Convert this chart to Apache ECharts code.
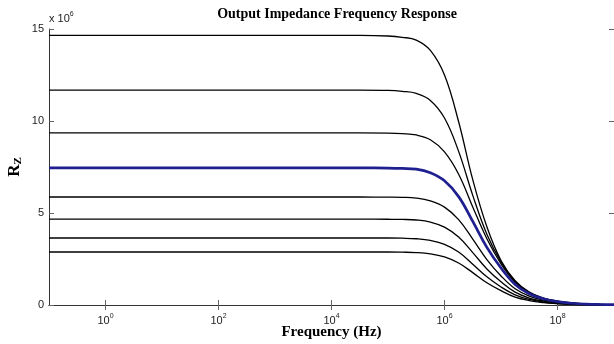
<!DOCTYPE html>
<html><head><meta charset="utf-8">
<script src="https://cdn.jsdelivr.net/npm/echarts@6/dist/echarts.min.js"></script>
<style>html,body{margin:0;padding:0;background:#fff}#c{width:614px;height:344px}</style>
</head><body><div id="c"></div>
<script>
// frequency exponents (log10 Hz)
const freqExp = [-1, 3, 4, 4.5, 5, 5.25, 5.5, 5.75, 6, 6.25, 6.5, 6.75, 7, 7.25, 7.5, 7.75, 8, 8.25, 8.5, 8.75, 9];
// R_Z values (x 10^6)
const curve1 = [14.65, 14.65, 14.65, 14.65, 14.62, 14.55, 14.40, 13.84, 12.50, 9.96, 6.81, 4.25, 2.42, 1.32, 0.70, 0.38, 0.21, 0.11, 0.06, 0.03, 0.015];
const curve2 = [11.68, 11.68, 11.68, 11.68, 11.66, 11.61, 11.50, 11.12, 10.16, 8.35, 5.96, 3.85, 2.34, 1.28, 0.68, 0.36, 0.20, 0.11, 0.06, 0.03, 0.015];
const curve3 = [9.35, 9.35, 9.35, 9.35, 9.34, 9.31, 9.24, 8.98, 8.32, 7.11, 5.33, 3.60, 2.24, 1.24, 0.67, 0.36, 0.20, 0.10, 0.056, 0.03, 0.016];
const curveBlue = [7.45, 7.45, 7.45, 7.45, 7.44, 7.42, 7.38, 7.19, 6.75, 5.89, 4.54, 3.13, 2.01, 1.12, 0.61, 0.34, 0.18, 0.095, 0.05, 0.027, 0.015];
const curve5 = [5.87, 5.87, 5.87, 5.87, 5.86, 5.85, 5.81, 5.66, 5.32, 4.64, 3.58, 2.47, 1.58, 0.88, 0.48, 0.26, 0.14, 0.075, 0.04, 0.022, 0.012];
const curve6 = [4.67, 4.67, 4.67, 4.67, 4.66, 4.65, 4.62, 4.51, 4.23, 3.69, 2.85, 1.96, 1.26, 0.70, 0.38, 0.21, 0.11, 0.06, 0.033, 0.017, 0.009];
const curve7 = [3.64, 3.64, 3.64, 3.64, 3.64, 3.63, 3.60, 3.51, 3.30, 2.88, 2.22, 1.53, 0.98, 0.55, 0.30, 0.16, 0.087, 0.046, 0.025, 0.013, 0.007];
const curve8 = [2.88, 2.88, 2.88, 2.88, 2.88, 2.87, 2.85, 2.78, 2.61, 2.28, 1.76, 1.21, 0.78, 0.43, 0.24, 0.13, 0.069, 0.037, 0.02, 0.011, 0.006];
const xTickExp = [0, 2, 4, 6, 8];
const yTicks = [0, 5, 10, 15];

const blackCurves = [curve1, curve2, curve3, curve5, curve6, curve7, curve8];
const xTicks = xTickExp.map(e => Math.pow(10, e));
function pts(vals){ return freqExp.map((e,i)=>[Math.pow(10,e), vals[i]]); }

const axisCol = '#333';
const series = blackCurves.map(v => ({
  type:'line', data: pts(v), showSymbol:false, smooth:0.4,
  lineStyle:{color:'#000', width:1.3}, silent:true, z:2
}));
series.push({type:'line', data: pts(curveBlue), showSymbol:false, smooth:0.4,
  lineStyle:{color:'#1f1f8f', width:2.7}, silent:true, z:3});

const chart = echarts.init(document.getElementById('c'), null, {renderer:'canvas'});
chart.setOption({
  animation:false,
  backgroundColor:'#fff',
  title:{text:'Output Impedance Frequency Response', left:332, textAlign:'center', top:2,
    textStyle:{fontFamily:'Liberation Serif', fontWeight:'bold', fontSize:14, color:'#000'}},
  grid:{left:49, top:29, right:0, bottom:39, containLabel:false, outerBoundsMode:'none'},
  xAxis:[{
    type:'log', logBase:10, min:0.1, max:1e9,
    axisLine:{show:true, lineStyle:{color:axisCol, width:1}},
    axisTick:{show:true, inside:true, length:5, customValues:xTicks, lineStyle:{color:'#666'}},
    axisLabel:{customValues:xTicks, margin:8, color:'#222', fontFamily:'Liberation Sans', fontSize:11,
      formatter:(v)=>'10{s|'+Math.round(Math.log10(v))+'}',
      rich:{s:{fontSize:7, verticalAlign:'top', padding:[0,0,8,0], fontFamily:'Liberation Sans', color:'#222'}}},
    splitLine:{show:false}, minorTick:{show:false},
    name:'Frequency (Hz)', nameLocation:'middle', nameGap:20, nameMoveOverlap:false,
    nameTextStyle:{fontFamily:'Liberation Serif', fontWeight:'bold', fontSize:15, color:'#000'}
  },{
    type:'log', logBase:10, min:0.1, max:1e9, position:'top',
    axisLine:{show:true, lineStyle:{color:axisCol}},
    axisTick:{show:true, inside:true, length:5, customValues:xTicks, lineStyle:{color:'#666'}},
    axisLabel:{show:false}, splitLine:{show:false}
  }],
  yAxis:[{
    type:'value', min:0, max:15, interval:5,
    axisLine:{show:true, lineStyle:{color:axisCol}},
    axisTick:{show:true, inside:true, length:5, lineStyle:{color:'#666'}},
    axisLabel:{color:'#222', fontFamily:'Liberation Sans', fontSize:11, margin:5},
    splitLine:{show:false}
  },{
    type:'value', min:0, max:15, interval:5, position:'right',
    axisLine:{show:true, lineStyle:{color:axisCol}},
    axisTick:{show:true, inside:true, length:5, lineStyle:{color:'#666'}},
    axisLabel:{show:false}, splitLine:{show:false}
  }],
  graphic:[
    {type:'text', left:49, top:11, style:{text:'x 10{s|6}', fill:'#222', font:'11px Liberation Sans',
      rich:{s:{fontSize:7, verticalAlign:'top', padding:[0,0,8,0], fontFamily:'Liberation Sans', fill:'#222'}}}},
    {type:'text', x:15, y:167, rotation:Math.PI/2, style:{text:'R{s|Z}', fill:'#000',
      font:'bold 17px Liberation Serif', align:'center', verticalAlign:'middle',
      rich:{s:{fontSize:11, fontWeight:'bold', fontFamily:'Liberation Serif', verticalAlign:'bottom', padding:[6,0,0,0]}}}}
  ],
  series: series
});
</script></body></html>
